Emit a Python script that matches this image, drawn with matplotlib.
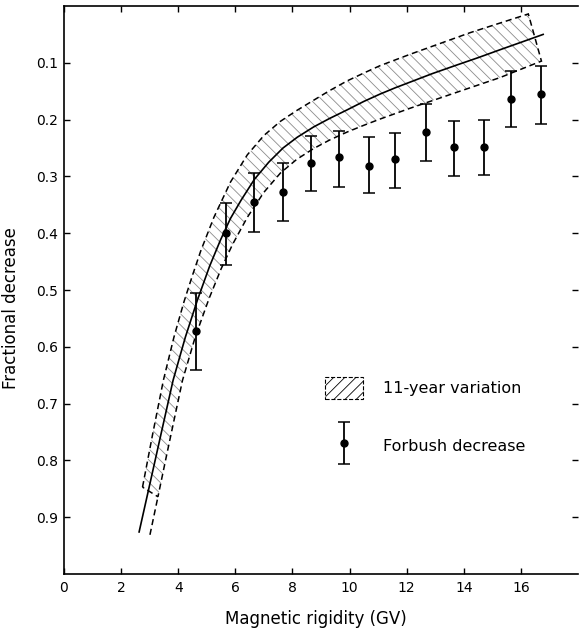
import matplotlib
matplotlib.use("Agg")
import matplotlib.pyplot as plt
from matplotlib.patches import Polygon, Patch
from matplotlib.container import ErrorbarContainer
from matplotlib.legend_handler import HandlerErrorbar

# Mean curve of the 11-year variation (rigidity in GV, fractional decrease)
mean_r = [2.63, 3.00, 3.40, 3.82, 4.25, 4.67, 5.10, 5.48, 5.83, 6.20, 6.67,
          7.17, 7.67, 8.17, 8.74, 9.30, 9.91, 10.50, 11.07, 11.60, 12.12,
          12.90, 13.75, 14.50, 15.27, 16.00, 16.78]
mean_frac = [0.926, 0.843, 0.753, 0.659, 0.583, 0.518, 0.458, 0.412, 0.374,
             0.342, 0.305, 0.275, 0.250, 0.231, 0.213, 0.198, 0.183, 0.168,
             0.155, 0.144, 0.134, 0.119, 0.104, 0.091, 0.077, 0.064, 0.050]

# Upper and lower limits of the 11-year variation band
upper_r = [2.75, 3.10, 3.48, 3.85, 4.20, 4.50, 4.79, 5.25, 5.83, 6.42, 7.00,
           7.58, 8.15, 8.74, 9.30, 9.91, 10.50, 11.07, 12.12, 13.17, 14.22,
           15.27, 16.26]
upper_frac = [0.847, 0.755, 0.659, 0.583, 0.521, 0.474, 0.431, 0.372, 0.310,
              0.262, 0.228, 0.203, 0.184, 0.166, 0.149, 0.132, 0.118, 0.105,
              0.085, 0.066, 0.047, 0.030, 0.014]
lower_r = [3.29, 3.58, 4.15, 4.60, 5.08, 5.50, 5.90, 6.42, 7.00, 7.58, 8.15,
           8.74, 9.30, 9.91, 10.50, 11.07, 12.12, 13.75, 15.27, 16.72]
lower_frac = [0.864, 0.794, 0.659, 0.582, 0.515, 0.463, 0.420, 0.372, 0.328,
              0.294, 0.270, 0.251, 0.236, 0.222, 0.210, 0.199, 0.180, 0.152,
              0.126, 0.097]
lower_tail_r = [3.01, 3.29]
lower_tail_frac = [0.931, 0.864]

# Forbush decrease measurements with error ranges
fd_r = [4.63, 5.69, 6.67, 7.67, 8.66, 9.63, 10.68, 11.60, 12.67, 13.65,
        14.70, 15.67, 16.72]
fd_frac = [0.572, 0.400, 0.345, 0.327, 0.276, 0.266, 0.281, 0.270, 0.221,
           0.249, 0.249, 0.164, 0.155]
fd_low = [0.505, 0.347, 0.294, 0.277, 0.229, 0.220, 0.230, 0.223, 0.173,
          0.202, 0.200, 0.114, 0.105]
fd_high = [0.641, 0.456, 0.398, 0.378, 0.326, 0.318, 0.330, 0.321, 0.273,
           0.300, 0.297, 0.213, 0.208]

x_ticks = [0, 2, 4, 6, 8, 10, 12, 14, 16]
x_tick_labels = ["0", "2", "4", "6", "8", "10", "12", "14", "16"]
y_ticks = [0.1, 0.2, 0.3, 0.4, 0.5, 0.6, 0.7, 0.8, 0.9]
y_tick_labels = ["0.1", "0.2", "0.3", "0.4", "0.5", "0.6", "0.7", "0.8", "0.9"]

plt.rcParams["font.family"] = ["DejaVu Sans"]
plt.rcParams["hatch.linewidth"] = 0.6

fig = plt.figure(figsize=(5.79, 6.30), dpi=100)
ax = fig.add_axes([64 / 579, 1 - 574 / 630, 514 / 579, 568 / 630])

dash = (0, (4, 2.5))

# hatched band
band = list(zip(upper_r, upper_frac)) + list(zip(lower_r[::-1], lower_frac[::-1]))
ax.add_patch(Polygon(band, closed=True, facecolor="none", edgecolor="0.55",
                     lw=0, hatch="\\\\\\"))
ax.add_patch(Polygon(band, closed=True, fill=False, edgecolor="black",
                     lw=1.1, linestyle=dash))
ax.plot(lower_tail_r, lower_tail_frac, color="black", lw=1.1, linestyle=dash)

# mean curve
ax.plot(mean_r, mean_frac, color="black", lw=1.2)

# Forbush decrease points
yerr = [[f - lo for f, lo in zip(fd_frac, fd_low)],
        [hi - f for f, hi in zip(fd_frac, fd_high)]]
eb = ax.errorbar(fd_r, fd_frac, yerr=yerr, fmt="o", color="black", ms=5,
                 elinewidth=1.3, capsize=4.5, capthick=1.1)

ax.set_xlim(0, 18)
ax.set_ylim(1.0, 0.0)
ax.set_xticks(x_ticks)
ax.set_xticklabels(x_tick_labels, fontsize=10)
ax.set_yticks(y_ticks)
ax.set_yticklabels(y_tick_labels, fontsize=10)
ax.tick_params(direction="in", length=4, width=1, top=True, right=True)
ax.tick_params(axis="x", pad=5)
ax.tick_params(axis="y", pad=4)
for side in ("left", "bottom", "top"):
    ax.spines[side].set_linewidth(1.2)
ax.spines["right"].set_visible(False)

ax.set_xlabel("Magnetic rigidity (GV)", fontsize=12)
ax.set_ylabel("Fractional decrease", fontsize=12)
ax.xaxis.set_label_coords(0.49, -0.063)
ax.yaxis.set_label_coords(-0.086, 0.468)

band_handle = Patch(facecolor="white", edgecolor="black", hatch="///",
                    linestyle="--", lw=0.8)
ax.legend([band_handle, eb], ["11-year variation", "Forbush decrease"],
          handler_map={ErrorbarContainer: HandlerErrorbar(yerr_size=1.3)},
          loc="upper left", bbox_to_anchor=(0.508, 0.347), frameon=False,
          fontsize=11.5, borderpad=0, borderaxespad=0, handlelength=2.4,
          handleheight=1.75, handletextpad=1.2, labelspacing=2.25)

fig.savefig("out.png", dpi=100)
